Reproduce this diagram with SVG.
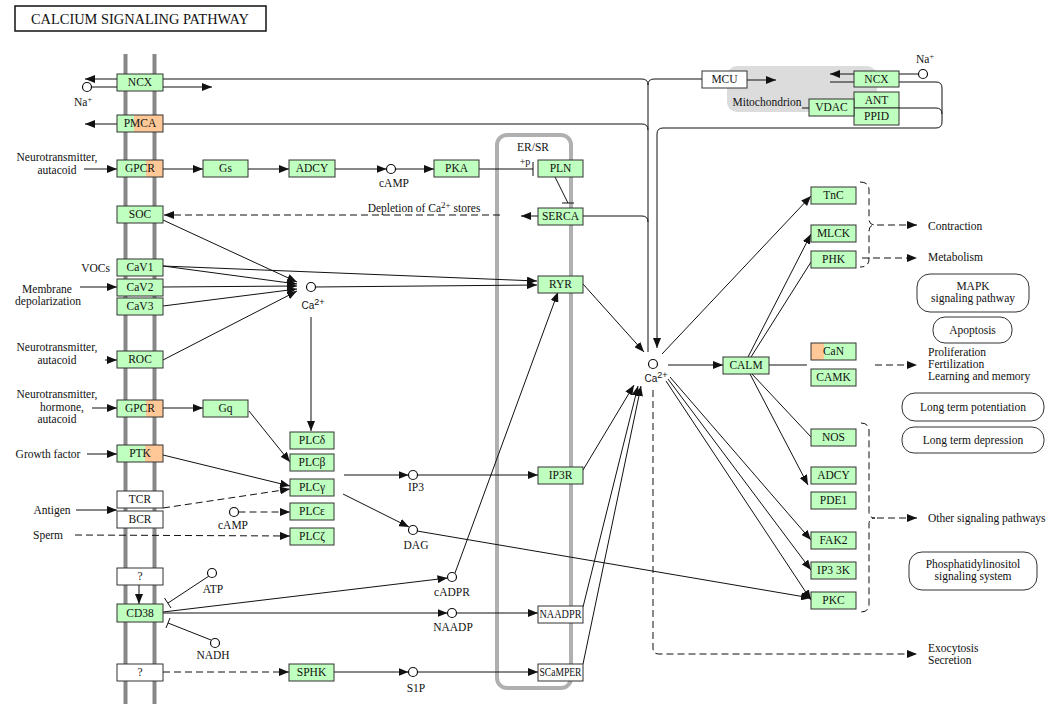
<svg xmlns="http://www.w3.org/2000/svg" width="1050" height="711" viewBox="0 0 1050 711">
<style>
.n rect{fill:#bfffbf;stroke:#333;stroke-width:1}
.w rect{fill:#fff;stroke:#333;stroke-width:1}
.n text,.w text,.t{font-family:"Liberation Serif",serif;font-size:11.5px;fill:#111}
.n text,.w text,.m{text-anchor:middle}
.s{font-family:"Liberation Sans",sans-serif;font-size:10px;fill:#111}
.e{text-anchor:end}
#conn line,#conn path{stroke:#111;stroke-width:1;fill:none}
#conn .d{stroke-dasharray:7,4}
.a{marker-end:url(#ar)}
.cp circle{fill:#fff;stroke:#111;stroke-width:1.2}
.mem{stroke:#888;stroke-width:4}
.pw rect{fill:#fff;stroke:#333;stroke-width:1}
</style>
<defs>
<marker id="ar" viewBox="0 0 10 8" refX="10" refY="4" markerWidth="10" markerHeight="8" markerUnits="userSpaceOnUse" orient="auto"><path d="M0,0 L10,4 L0,8 z" fill="#111"/></marker>
<linearGradient id="gPMCA"><stop offset="0.36" stop-color="#bfffbf"/><stop offset="0.36" stop-color="#ffc896"/></linearGradient>
<linearGradient id="gGPCR"><stop offset="0.63" stop-color="#bfffbf"/><stop offset="0.63" stop-color="#ffc896"/></linearGradient>
<linearGradient id="gPTK"><stop offset="0.6" stop-color="#bfffbf"/><stop offset="0.6" stop-color="#ffc896"/></linearGradient>
<linearGradient id="gCaN"><stop offset="0.28" stop-color="#ffc896"/><stop offset="0.28" stop-color="#bfffbf"/></linearGradient>
</defs>
<rect width="1050" height="711" fill="#fff"/>

<g id="title"><rect x="15" y="6" width="251" height="25" fill="#fff" stroke="#111" stroke-width="1.5"/><text x="140" y="24" class="t m" style="font-size:15px" textLength="218" lengthAdjust="spacingAndGlyphs">CALCIUM SIGNALING PATHWAY</text></g>

<g id="membrane"><line class="mem" x1="125.5" y1="54" x2="125.5" y2="704"/><line class="mem" x1="154.5" y1="54" x2="154.5" y2="704"/></g>
<g id="ersr"><rect x="497" y="135" width="74" height="553" rx="10" fill="none" stroke="#b0b0b0" stroke-width="4"/><text x="533" y="151" class="t m">ER/SR</text><text x="525" y="165" class="t m" style="font-size:10px">+p</text></g>
<g id="mito"><rect x="727" y="66" width="150" height="46" rx="10" fill="#dcdcdc"/><text x="767" y="106" class="t m">Mitochondrion</text></g>

<g id="conn">
<line class="a" x1="117" y1="79" x2="85" y2="79"/>
<line x1="91.5" y1="87" x2="117" y2="87"/>
<line class="a" x1="163" y1="87" x2="212" y2="87"/>
<path d="M163,79 H642 Q648,79 648,85 V352"/>
<path d="M702,79 H654 Q648,79 648,85"/>
<line class="a" x1="747" y1="80" x2="776" y2="80"/>
<line class="a" x1="117" y1="124" x2="85" y2="124"/>
<path d="M163,124 H642 Q648,124 648,130"/>
<path d="M583,216 H642 Q648,216 648,222"/>
<path class="a" d="M899,82 H936 Q942,82 942,88 V122 Q942,128 936,128 H663 Q657,128 657,134 V348"/>
<path d="M899,108 H936 Q942,108 942,114"/>
<line class="a" x1="854" y1="74" x2="830" y2="74"/>
<line x1="830" y1="82" x2="854" y2="82"/>
<line x1="899" y1="74" x2="918.5" y2="74"/>
<line x1="802" y1="108" x2="809" y2="108"/>
<line class="a" x1="84" y1="169" x2="117" y2="169"/>
<line class="a" x1="163" y1="169" x2="203" y2="169"/>
<line class="a" x1="248" y1="169" x2="289" y2="169"/>
<line class="a" x1="335" y1="169" x2="386.5" y2="169"/>
<line class="a" x1="395.5" y1="169" x2="434" y2="169"/>
<line x1="479" y1="169" x2="533" y2="169"/>
<line x1="533" y1="162" x2="533" y2="176" stroke-width="1.3"/>
<line x1="555" y1="177" x2="568" y2="203"/>
<line x1="562" y1="203" x2="574" y2="203" stroke-width="1.3"/>
<line class="a" x1="538" y1="216" x2="521" y2="216"/>
<line class="a d" x1="500" y1="215" x2="164" y2="215"/>
<line class="a" x1="163" y1="220" x2="297" y2="282"/>
<line class="a" x1="163" y1="266" x2="297" y2="284"/>
<line class="a" x1="163" y1="266" x2="537" y2="281"/>
<line class="a" x1="315" y1="287" x2="537" y2="285"/>
<line class="a" x1="163" y1="287" x2="297" y2="286"/>
<line class="a" x1="163" y1="306" x2="297" y2="289"/>
<line class="a" x1="163" y1="360" x2="297" y2="291"/>
<line class="a" x1="311" y1="317" x2="311" y2="431"/>
<line class="a" x1="105" y1="360" x2="117" y2="360"/>
<line class="a" x1="80" y1="287" x2="117" y2="287"/>
<line class="a" x1="92" y1="408" x2="117" y2="408"/>
<line class="a" x1="163" y1="408" x2="203" y2="408"/>
<line class="a" x1="249" y1="411" x2="290" y2="462"/>
<line class="a" x1="87" y1="454" x2="117" y2="454"/>
<line class="a" x1="163" y1="455" x2="290" y2="486"/>
<line class="a" x1="76" y1="510" x2="117" y2="510"/>
<line class="a d" x1="163" y1="508" x2="290" y2="489"/>
<line class="a d" x1="238.5" y1="512" x2="290" y2="512"/>
<line class="a d" x1="75" y1="535" x2="290" y2="536"/>
<line class="a" x1="344" y1="475" x2="408.5" y2="475"/>
<line class="a" x1="343" y1="494" x2="409" y2="527"/>
<line class="a" x1="417.5" y1="475" x2="538" y2="475"/>
<line class="a" x1="583" y1="470" x2="634" y2="385"/>
<line class="a" x1="417" y1="531" x2="811" y2="598"/>
<line class="a" x1="583" y1="284" x2="644" y2="352"/>
<line class="a" x1="455" y1="573" x2="558" y2="292"/>
<line class="a" x1="163" y1="612" x2="447.5" y2="578"/>
<line class="a" x1="163" y1="613" x2="447.5" y2="613"/>
<line class="a" x1="456.5" y1="613" x2="538" y2="613"/>
<line class="a" x1="583" y1="607" x2="638" y2="386"/>
<line class="a" x1="583" y1="664" x2="641" y2="386"/>
<line class="a" x1="139" y1="585" x2="139" y2="604"/>
<line x1="209" y1="576" x2="168" y2="603"/>
<line x1="164.5" y1="598" x2="171" y2="608" stroke-width="1.3"/>
<line x1="211" y1="640" x2="168" y2="623"/>
<line x1="166" y1="628" x2="170" y2="618" stroke-width="1.3"/>
<line class="a d" x1="163" y1="672" x2="289" y2="672"/>
<line class="a" x1="334" y1="672" x2="408.5" y2="672"/>
<line class="a" x1="417.5" y1="672" x2="538" y2="672"/>
<line class="a" x1="668" y1="365" x2="723" y2="365"/>
<line class="a" x1="662" y1="354" x2="811" y2="196"/>
<line class="a" x1="748" y1="357" x2="811" y2="234"/>
<line x1="751" y1="357" x2="811" y2="262"/>
<line x1="769" y1="365" x2="807" y2="365"/>
<line class="a d" x1="875" y1="365" x2="917" y2="365"/>
<line x1="752" y1="374" x2="811" y2="437"/>
<line class="a" x1="750" y1="374" x2="808" y2="485"/>
<line class="a" x1="670" y1="377" x2="811" y2="540"/>
<line class="a" x1="668" y1="379" x2="811" y2="570"/>
<line class="a" x1="666" y1="381" x2="811" y2="600"/>
<path class="a d" d="M653,390 V648 Q653,654 659,654 H917"/>
<path class="d" d="M860,182 Q869,182 869,190 V219 Q869,225 875,225 Q869,225 869,231 V259 Q869,267 860,267"/>
<line class="a d" x1="877" y1="225" x2="917" y2="225"/>
<line class="a d" x1="862" y1="258" x2="917" y2="258"/>
<path class="d" d="M861,423 Q869,423 869,431 V512 Q869,518 875,518 Q869,518 869,524 V604 Q869,612 861,612"/>
<line class="a d" x1="877" y1="518" x2="917" y2="518"/>
</g>

<g class="cp">
<circle id="cNa1" cx="87" cy="87" r="4.5"/>
<circle id="cNa2" cx="923" cy="74" r="4.5"/>
<circle id="cCAMP1" cx="391" cy="169" r="4.5"/>
<circle id="cCa1" cx="311" cy="287" r="4.5"/>
<circle id="cCa2" cx="653" cy="364" r="4.5"/>
<circle id="cIP3" cx="413" cy="475" r="4.5"/>
<circle id="cDAG" cx="413" cy="530" r="4.5"/>
<circle id="cCAMP2" cx="234" cy="512" r="4.5"/>
<circle id="cCADPR" cx="452" cy="577" r="4.5"/>
<circle id="cNAADP" cx="452" cy="613" r="4.5"/>
<circle id="cS1P" cx="413" cy="672" r="4.5"/>
<circle id="cATP" cx="212" cy="573" r="4.5"/>
<circle id="cNADH" cx="215" cy="643" r="4.5"/>
</g>

<g id="n_NCX" class="n"><rect x="117" y="74" width="46" height="17"/><text x="140" y="86">NCX</text></g>
<g id="n_PMCA" class="n"><rect x="117" y="115" width="46" height="17" style="fill:url(#gPMCA)"/><text x="140" y="127">PMCA</text></g>
<g id="n_GPCR1" class="n"><rect x="117" y="160" width="46" height="17" style="fill:url(#gGPCR)"/><text x="140" y="172">GPCR</text></g>
<g id="n_SOC" class="n"><rect x="117" y="206" width="46" height="17"/><text x="140" y="218">SOC</text></g>
<g id="n_CaV1" class="n"><rect x="117" y="259" width="46" height="17"/><text x="140" y="271">CaV1</text></g>
<g id="n_CaV2" class="n"><rect x="117" y="279" width="46" height="17"/><text x="140" y="291">CaV2</text></g>
<g id="n_CaV3" class="n"><rect x="117" y="298" width="46" height="17"/><text x="140" y="310">CaV3</text></g>
<g id="n_ROC" class="n"><rect x="117" y="351" width="46" height="17"/><text x="140" y="363">ROC</text></g>
<g id="n_GPCR2" class="n"><rect x="117" y="400" width="46" height="17" style="fill:url(#gGPCR)"/><text x="140" y="412">GPCR</text></g>
<g id="n_PTK" class="n"><rect x="117" y="445" width="46" height="17" style="fill:url(#gPTK)"/><text x="140" y="457">PTK</text></g>
<g id="n_TCR" class="w"><rect x="117" y="491" width="46" height="17"/><text x="140" y="503">TCR</text></g>
<g id="n_BCR" class="w"><rect x="117" y="511" width="46" height="17"/><text x="140" y="523">BCR</text></g>
<g id="n_Q1" class="w"><rect x="117" y="568" width="46" height="17"/><text x="140" y="580">?</text></g>
<g id="n_CD38" class="n"><rect x="117" y="604" width="46" height="18"/><text x="140" y="617">CD38</text></g>
<g id="n_Q2" class="w"><rect x="117" y="664" width="46" height="17"/><text x="140" y="676">?</text></g>

<g id="n_Gs" class="n"><rect x="203" y="160" width="45" height="17"/><text x="225.5" y="172">Gs</text></g>
<g id="n_ADCY1" class="n"><rect x="289" y="160" width="46" height="17"/><text x="312" y="172">ADCY</text></g>
<g id="n_PKA" class="n"><rect x="434" y="160" width="45" height="17"/><text x="456.5" y="172">PKA</text></g>
<g id="n_PLN" class="n"><rect x="538" y="160" width="45" height="17"/><text x="560.5" y="172">PLN</text></g>
<g id="n_SERCA" class="n"><rect x="538" y="208" width="45" height="17"/><text x="560.5" y="220">SERCA</text></g>
<g id="n_RYR" class="n"><rect x="538" y="276" width="45" height="17"/><text x="560.5" y="288">RYR</text></g>
<g id="n_IP3R" class="n"><rect x="538" y="467" width="45" height="17"/><text x="560.5" y="479">IP3R</text></g>
<g id="n_NAADPR" class="w"><rect x="538" y="606" width="45" height="17"/><text x="560.5" y="618" textLength="42" lengthAdjust="spacingAndGlyphs">NAADPR</text></g>
<g id="n_SCaMPER" class="w"><rect x="538" y="664" width="45" height="17"/><text x="560.5" y="676" textLength="42" lengthAdjust="spacingAndGlyphs">SCaMPER</text></g>
<g id="n_Gq" class="n"><rect x="203" y="400" width="45" height="17"/><text x="225.5" y="412">Gq</text></g>
<g id="n_PLCd" class="n"><rect x="290" y="432" width="44" height="17"/><text x="312" y="444">PLCδ</text></g>
<g id="n_PLCb" class="n"><rect x="290" y="454" width="44" height="17"/><text x="312" y="466">PLCβ</text></g>
<g id="n_PLCg" class="n"><rect x="290" y="479" width="44" height="17"/><text x="312" y="491">PLCγ</text></g>
<g id="n_PLCe" class="n"><rect x="290" y="503" width="44" height="17"/><text x="312" y="515">PLCε</text></g>
<g id="n_PLCz" class="n"><rect x="290" y="528" width="44" height="17"/><text x="312" y="540">PLCζ</text></g>
<g id="n_SPHK" class="n"><rect x="289" y="664" width="45" height="17"/><text x="311.5" y="676">SPHK</text></g>

<g id="n_MCU" class="w"><rect x="702" y="71" width="45" height="17"/><text x="724.5" y="83">MCU</text></g>
<g id="n_NCX2" class="n"><rect x="854" y="71" width="45" height="16"/><text x="876.5" y="83">NCX</text></g>
<g id="n_ANT" class="n"><rect x="854" y="92" width="45" height="16"/><text x="876.5" y="104">ANT</text></g>
<g id="n_PPID" class="n"><rect x="854" y="108" width="45" height="17"/><text x="876.5" y="120">PPID</text></g>
<g id="n_VDAC" class="n"><rect x="809" y="99" width="45" height="17"/><text x="831.5" y="111">VDAC</text></g>
<g id="n_TnC" class="n"><rect x="811" y="187" width="45" height="17"/><text x="833.5" y="199">TnC</text></g>
<g id="n_MLCK" class="n"><rect x="811" y="225" width="45" height="17"/><text x="833.5" y="237">MLCK</text></g>
<g id="n_PHK" class="n"><rect x="811" y="251" width="45" height="17"/><text x="833.5" y="263">PHK</text></g>
<g id="n_CALM" class="n"><rect x="723" y="357" width="46" height="17"/><text x="746" y="369">CALM</text></g>
<g id="n_CaN" class="n"><rect x="811" y="343" width="45" height="17" style="fill:url(#gCaN)"/><text x="833.5" y="355">CaN</text></g>
<g id="n_CAMK" class="n"><rect x="811" y="369" width="45" height="17"/><text x="833.5" y="381">CAMK</text></g>
<g id="n_NOS" class="n"><rect x="811" y="429" width="45" height="17"/><text x="833.5" y="441">NOS</text></g>
<g id="n_ADCY2" class="n"><rect x="811" y="467" width="45" height="17"/><text x="833.5" y="479">ADCY</text></g>
<g id="n_PDE1" class="n"><rect x="811" y="492" width="45" height="17"/><text x="833.5" y="504">PDE1</text></g>
<g id="n_FAK2" class="n"><rect x="811" y="532" width="45" height="17"/><text x="833.5" y="544">FAK2</text></g>
<g id="n_IP33K" class="n"><rect x="811" y="562" width="45" height="17"/><text x="833.5" y="574">IP3 3K</text></g>
<g id="n_PKC" class="n"><rect x="811" y="592" width="45" height="17"/><text x="833.5" y="604">PKC</text></g>

<g id="pw_MAPK" class="pw"><rect x="917" y="274" width="112" height="38" rx="13"/><text x="973" y="290" class="t m">MAPK</text><text x="973" y="302" class="t m">signaling pathway</text></g>
<g id="pw_Apoptosis" class="pw"><rect x="933" y="317" width="79" height="26" rx="12"/><text x="972.5" y="334" class="t m">Apoptosis</text></g>
<g id="pw_LTP" class="pw"><rect x="902" y="393" width="142" height="28" rx="13"/><text x="973" y="411" class="t m">Long term potentiation</text></g>
<g id="pw_LTD" class="pw"><rect x="902" y="427" width="142" height="26" rx="12"/><text x="973" y="444" class="t m">Long term depression</text></g>
<g id="pw_PI" class="pw"><rect x="909" y="552" width="128" height="38" rx="13"/><text x="973" y="568" class="t m">Phosphatidylinositol</text><text x="973" y="580" class="t m">signaling system</text></g>

<g id="labels">
<text x="83" y="106" class="t m">Na<tspan dy="-4" style="font-size:8px">+</tspan></text>
<text x="925" y="63" class="t m">Na<tspan dy="-4" style="font-size:8px">+</tspan></text>
<text x="57" y="161" class="t m">Neurotransmitter,</text>
<text x="57" y="174" class="t m">autacoid</text>
<text x="110" y="272" class="t e">VOCs</text>
<text x="47" y="293" class="t m">Membrane</text>
<text x="48" y="305" class="t m">depolarization</text>
<text x="57" y="351" class="t m">Neurotransmitter,</text>
<text x="57" y="364" class="t m">autacoid</text>
<text x="57" y="398" class="t m">Neurotransmitter,</text>
<text x="62" y="411" class="t m">hormone,</text>
<text x="57" y="423" class="t m">autacoid</text>
<text x="48" y="458" class="t m">Growth factor</text>
<text x="52" y="514" class="t m">Antigen</text>
<text x="48" y="539" class="t m">Sperm</text>
<text x="394" y="187" class="t m">cAMP</text>
<text x="424" y="212" class="t m">Depletion of Ca<tspan dy="-4" style="font-size:9px">2+</tspan><tspan dy="4"> stores</tspan></text>
<text x="313" y="309" class="s m">Ca<tspan dy="-4" style="font-size:9px">2+</tspan></text>
<text x="656" y="382" class="s m">Ca<tspan dy="-4" style="font-size:9px">2+</tspan></text>
<text x="416" y="491" class="t m">IP3</text>
<text x="416" y="549" class="t m">DAG</text>
<text x="233" y="529" class="t m">cAMP</text>
<text x="452" y="596" class="t m">cADPR</text>
<text x="453" y="631" class="t m">NAADP</text>
<text x="416" y="692" class="t m">S1P</text>
<text x="213" y="593" class="t m">ATP</text>
<text x="213" y="659" class="t m">NADH</text>
<text x="928" y="230" class="t">Contraction</text>
<text x="928" y="261" class="t">Metabolism</text>
<text x="928" y="356" class="t">Proliferation</text>
<text x="928" y="368" class="t">Fertilization</text>
<text x="928" y="380" class="t">Learning and memory</text>
<text x="928" y="522" class="t">Other signaling pathways</text>
<text x="928" y="652" class="t">Exocytosis</text>
<text x="928" y="664" class="t">Secretion</text>
</g>
</svg>
